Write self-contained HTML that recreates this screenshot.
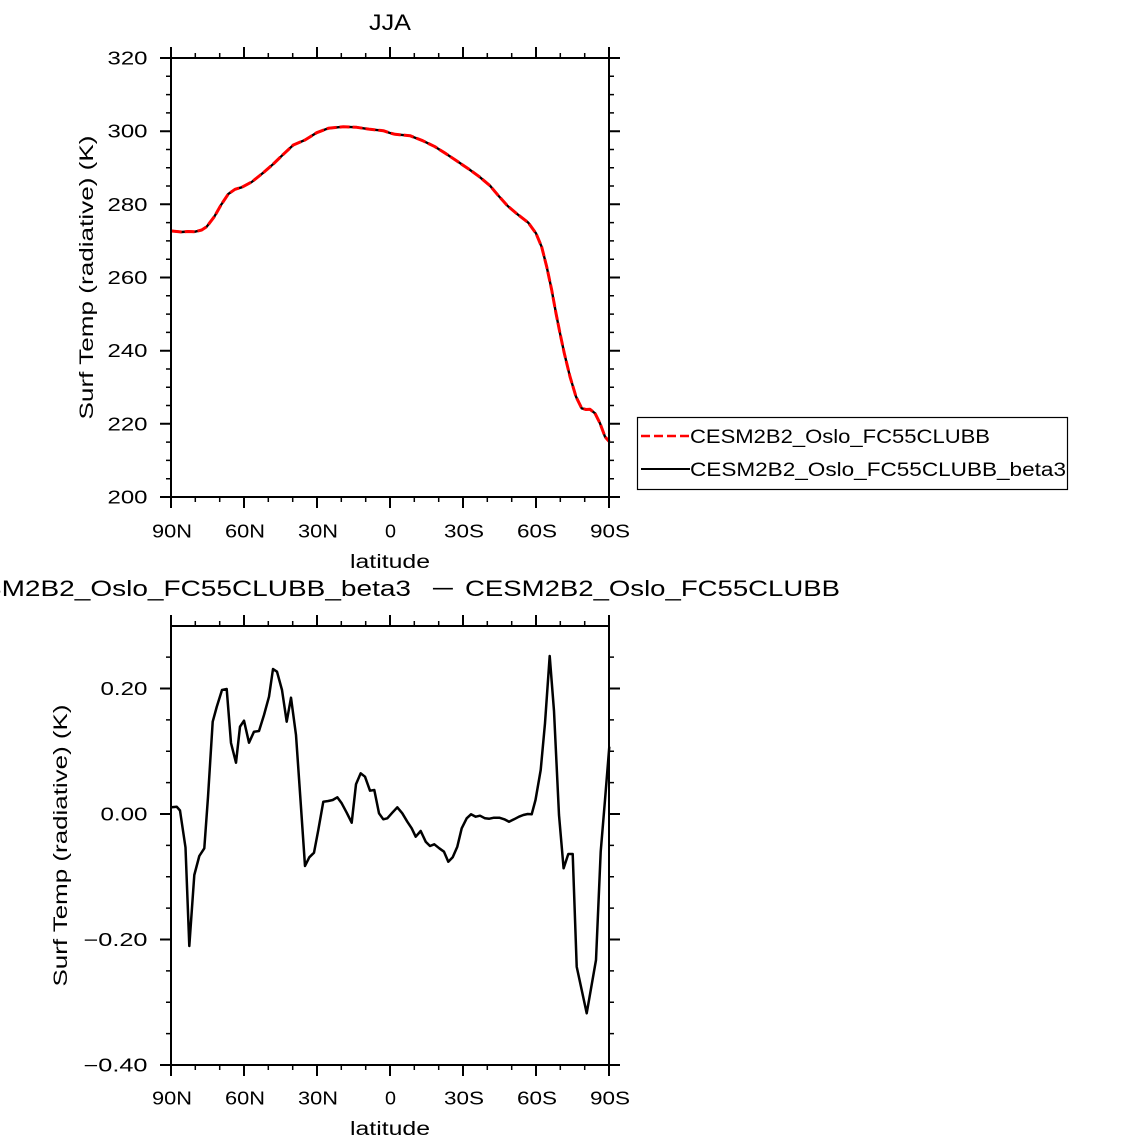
<!DOCTYPE html>
<html>
<head>
<meta charset="utf-8">
<style>
  html,body{margin:0;padding:0;background:#fff;}
  svg{display:block;}
  text{font-family:"Liberation Sans","DejaVu Sans",sans-serif;fill:#000;}
</style>
</head>
<body>
<svg width="1144" height="1146" viewBox="0 0 1144 1146" xmlns="http://www.w3.org/2000/svg">
  <rect x="0" y="0" width="1144" height="1146" fill="#fff"/>

  <!-- ================= TOP PLOT ================= -->
  <text x="369" y="30" font-size="22" textLength="42" lengthAdjust="spacingAndGlyphs">JJA</text>

  <!-- series: black solid under red dashed -->
  <polyline fill="none" stroke="#000" stroke-width="2.4" stroke-linejoin="round"
    points="171.7,231 181.7,232 188,231.5 195,231.7 201.7,230 206.7,226.7 214.3,216.7 221,205 228.3,194 235,189.3 241.7,187.3 251.7,182 263.3,172.7 273.3,164 283.3,154.3 293.3,145 305,140 316.7,132.7 328.3,128.3 343.3,126.7 356.7,127.3 370,129.3 383.3,130.7 390,133 395,134.3 410,135.7 422.7,140.7 435,146.7 446,153.7 457.3,161.3 468.7,169 479.3,176.7 490,185.7 498.7,196 507.7,206 518,214.7 528.3,222.7 536,233.3 541.7,247 546.7,266.7 551.7,290 556,313.3 560,333.3 564.3,353.3 570,376.7 576,396.7 581.7,408.3 586,409.5 590,409.3 595,413.3 600,423.3 605,436.7 609.3,441.7"/>
  <polyline fill="none" stroke="#ff0000" stroke-width="3" stroke-dasharray="10 3" stroke-linejoin="round"
    points="171.7,231 181.7,232 188,231.5 195,231.7 201.7,230 206.7,226.7 214.3,216.7 221,205 228.3,194 235,189.3 241.7,187.3 251.7,182 263.3,172.7 273.3,164 283.3,154.3 293.3,145 305,140 316.7,132.7 328.3,128.3 343.3,126.7 356.7,127.3 370,129.3 383.3,130.7 390,133 395,134.3 410,135.7 422.7,140.7 435,146.7 446,153.7 457.3,161.3 468.7,169 479.3,176.7 490,185.7 498.7,196 507.7,206 518,214.7 528.3,222.7 536,233.3 541.7,247 546.7,266.7 551.7,290 556,313.3 560,333.3 564.3,353.3 570,376.7 576,396.7 581.7,408.3 586,409.5 590,409.3 595,413.3 600,423.3 605,436.7 609.3,441.7"/>

  <!-- frame -->
  <rect x="171" y="58" width="438" height="439" fill="none" stroke="#000" stroke-width="2"/>

  <!-- major ticks -->
  <path fill="none" stroke="#000" stroke-width="2" d="
    M171 58V47 M244 58V47 M317 58V47 M390 58V47 M463 58V47 M536 58V47 M609 58V47
    M171 497V508 M244 497V508 M317 497V508 M390 497V508 M463 497V508 M536 497V508 M609 497V508
    M171 58H160 M171 131.2H160 M171 204.3H160 M171 277.5H160 M171 350.7H160 M171 423.8H160 M171 497H160
    M609 58H620 M609 131.2H620 M609 204.3H620 M609 277.5H620 M609 350.7H620 M609 423.8H620 M609 497H620"/>
  <!-- minor ticks -->
  <path fill="none" stroke="#000" stroke-width="1.5" d="
    M195.3 58V53 M219.7 58V53 M268.3 58V53 M292.7 58V53 M341.3 58V53 M365.7 58V53 M414.3 58V53 M438.7 58V53 M487.3 58V53 M511.7 58V53 M560.3 58V53 M584.7 58V53
    M195.3 497V502 M219.7 497V502 M268.3 497V502 M292.7 497V502 M341.3 497V502 M365.7 497V502 M414.3 497V502 M438.7 497V502 M487.3 497V502 M511.7 497V502 M560.3 497V502 M584.7 497V502
    M171 76.3H166 M171 94.6H166 M171 112.9H166 M171 149.5H166 M171 167.8H166 M171 186H166 M171 222.6H166 M171 240.9H166 M171 259.2H166 M171 295.8H166 M171 314.1H166 M171 332.4H166 M171 369H166 M171 387.2H166 M171 405.5H166 M171 442.1H166 M171 460.4H166 M171 478.7H166
    M609 76.3H614 M609 94.6H614 M609 112.9H614 M609 149.5H614 M609 167.8H614 M609 186H614 M609 222.6H614 M609 240.9H614 M609 259.2H614 M609 295.8H614 M609 314.1H614 M609 332.4H614 M609 369H614 M609 387.2H614 M609 405.5H614 M609 442.1H614 M609 460.4H614 M609 478.7H614"/>

  <!-- y tick labels -->
  <g font-size="18" text-anchor="end">
    <text x="147.5" y="64.5" textLength="40" lengthAdjust="spacingAndGlyphs">320</text>
    <text x="147.5" y="137.7" textLength="40" lengthAdjust="spacingAndGlyphs">300</text>
    <text x="147.5" y="210.8" textLength="40" lengthAdjust="spacingAndGlyphs">280</text>
    <text x="147.5" y="284" textLength="40" lengthAdjust="spacingAndGlyphs">260</text>
    <text x="147.5" y="357.2" textLength="40" lengthAdjust="spacingAndGlyphs">240</text>
    <text x="147.5" y="430.3" textLength="40" lengthAdjust="spacingAndGlyphs">220</text>
    <text x="147.5" y="503.5" textLength="40" lengthAdjust="spacingAndGlyphs">200</text>
  </g>
  <!-- x tick labels -->
  <g font-size="18" text-anchor="middle">
    <text x="172" y="537.5" textLength="40" lengthAdjust="spacingAndGlyphs">90N</text>
    <text x="245" y="537.5" textLength="40" lengthAdjust="spacingAndGlyphs">60N</text>
    <text x="318" y="537.5" textLength="40" lengthAdjust="spacingAndGlyphs">30N</text>
    <text x="390.5" y="537.5" textLength="11" lengthAdjust="spacingAndGlyphs">0</text>
    <text x="464" y="537.5" textLength="40" lengthAdjust="spacingAndGlyphs">30S</text>
    <text x="537" y="537.5" textLength="40" lengthAdjust="spacingAndGlyphs">60S</text>
    <text x="610" y="537.5" textLength="40" lengthAdjust="spacingAndGlyphs">90S</text>
  </g>
  <text x="350" y="568" font-size="19" textLength="80" lengthAdjust="spacingAndGlyphs">latitude</text>
  <text transform="translate(93,277.5) rotate(-90)" font-size="19" text-anchor="middle" textLength="284" lengthAdjust="spacingAndGlyphs">Surf Temp (radiative) (K)</text>

  <!-- legend -->
  <rect x="637.5" y="417.5" width="430" height="72" fill="#fff" stroke="#000" stroke-width="1.2"/>
  <line x1="641" y1="436" x2="690" y2="436" stroke="#ff0000" stroke-width="2.4" stroke-dasharray="9 4"/>
  <line x1="641" y1="469" x2="690" y2="469" stroke="#000" stroke-width="2"/>
  <text x="690" y="443" font-size="19" textLength="300" lengthAdjust="spacingAndGlyphs">CESM2B2_Oslo_FC55CLUBB</text>
  <text x="690" y="476" font-size="19" textLength="376" lengthAdjust="spacingAndGlyphs">CESM2B2_Oslo_FC55CLUBB_beta3</text>

  <!-- ================= BOTTOM PLOT ================= -->
  <text x="-56" y="596" font-size="22" textLength="467" lengthAdjust="spacingAndGlyphs">CESM2B2_Oslo_FC55CLUBB_beta3</text>
  <text x="431" y="596" font-size="22" textLength="24" lengthAdjust="spacingAndGlyphs">−</text>
  <text x="465" y="596" font-size="22" textLength="375" lengthAdjust="spacingAndGlyphs">CESM2B2_Oslo_FC55CLUBB</text>

  <polyline fill="none" stroke="#000" stroke-width="2.5" stroke-linejoin="round"
    points="171.7,807.3 176.7,806.7 180,810.5 185.5,847.5 189.3,946 194.3,875 199.3,856 204.3,848.3 208,797 212.7,721.7 216.7,707 222,690 226.7,689 231,743 236,762.7 240,726.7 244,720.7 249,742.7 254,731.7 259,731 264,715 269,696.7 273,669 277,671.7 282,690 286.7,721.7 291,697.7 296,735 300.5,800 305,866 309.3,857.3 314,852.7 318.3,830 323.3,801.7 328.3,801 332.7,800 337.3,797.3 341.7,803.3 346.7,812.7 351.7,822.7 356,784.3 360.7,773.3 365,776.7 370,790.7 374.3,790 379,813.3 383.3,819.3 387.3,818.3 392.3,812.7 397.3,807.3 402.3,813.3 407.3,821.7 411.7,828.3 415.7,836.7 420.7,831 425.7,841.7 430,846 434.3,844.3 439.3,848.3 444,851.7 448.3,861.7 452.7,857.3 457.3,846.7 461.7,828.3 466.7,818.3 471,814.3 475.7,816.7 480,815.7 485,818.3 489.3,818.7 494,817.7 499.3,817.7 504.3,819.3 509,821.7 514,819.3 519,816.7 523.3,815 527.7,814 531.7,814.3 535.5,800 540.7,770 545,723.3 549.7,656 554,711 559,815 563.6,868.3 568.3,854 572.7,854 576.7,966.7 586.7,1013.3 596,960 600.7,851.7 605,800 609.3,746.7"/>

  <rect x="171" y="626" width="438" height="439" fill="none" stroke="#000" stroke-width="2"/>

  <path fill="none" stroke="#000" stroke-width="2" d="
    M171 626V615 M244 626V615 M317 626V615 M390 626V615 M463 626V615 M536 626V615 M609 626V615
    M171 1065V1076 M244 1065V1076 M317 1065V1076 M390 1065V1076 M463 1065V1076 M536 1065V1076 M609 1065V1076
    M171 688.5H160 M171 814H160 M171 939.5H160 M171 1065H160
    M609 688.5H620 M609 814H620 M609 939.5H620 M609 1065H620"/>
  <path fill="none" stroke="#000" stroke-width="1.5" d="
    M195.3 626V621 M219.7 626V621 M268.3 626V621 M292.7 626V621 M341.3 626V621 M365.7 626V621 M414.3 626V621 M438.7 626V621 M487.3 626V621 M511.7 626V621 M560.3 626V621 M584.7 626V621
    M195.3 1065V1070 M219.7 1065V1070 M268.3 1065V1070 M292.7 1065V1070 M341.3 1065V1070 M365.7 1065V1070 M414.3 1065V1070 M438.7 1065V1070 M487.3 1065V1070 M511.7 1065V1070 M560.3 1065V1070 M584.7 1065V1070
    M171 657.1H166 M171 719.9H166 M171 751.3H166 M171 782.6H166 M171 845.4H166 M171 876.8H166 M171 908.1H166 M171 970.9H166 M171 1002.3H166 M171 1033.6H166
    M609 657.1H614 M609 719.9H614 M609 751.3H614 M609 782.6H614 M609 845.4H614 M609 876.8H614 M609 908.1H614 M609 970.9H614 M609 1002.3H614 M609 1033.6H614"/>

  <g font-size="18" text-anchor="end">
    <text x="147.5" y="695" textLength="47" lengthAdjust="spacingAndGlyphs">0.20</text>
    <text x="147.5" y="820.5" textLength="47" lengthAdjust="spacingAndGlyphs">0.00</text>
    <text x="147.5" y="946" textLength="64" lengthAdjust="spacingAndGlyphs">−0.20</text>
    <text x="147.5" y="1071.5" textLength="64" lengthAdjust="spacingAndGlyphs">−0.40</text>
  </g>
  <g font-size="18" text-anchor="middle">
    <text x="172" y="1104.5" textLength="40" lengthAdjust="spacingAndGlyphs">90N</text>
    <text x="245" y="1104.5" textLength="40" lengthAdjust="spacingAndGlyphs">60N</text>
    <text x="318" y="1104.5" textLength="40" lengthAdjust="spacingAndGlyphs">30N</text>
    <text x="390.5" y="1104.5" textLength="11" lengthAdjust="spacingAndGlyphs">0</text>
    <text x="464" y="1104.5" textLength="40" lengthAdjust="spacingAndGlyphs">30S</text>
    <text x="537" y="1104.5" textLength="40" lengthAdjust="spacingAndGlyphs">60S</text>
    <text x="610" y="1104.5" textLength="40" lengthAdjust="spacingAndGlyphs">90S</text>
  </g>
  <text x="350" y="1135" font-size="19" textLength="80" lengthAdjust="spacingAndGlyphs">latitude</text>
  <text transform="translate(67,845.5) rotate(-90)" font-size="19" text-anchor="middle" textLength="282" lengthAdjust="spacingAndGlyphs">Surf Temp (radiative) (K)</text>
</svg>
</body>
</html>
